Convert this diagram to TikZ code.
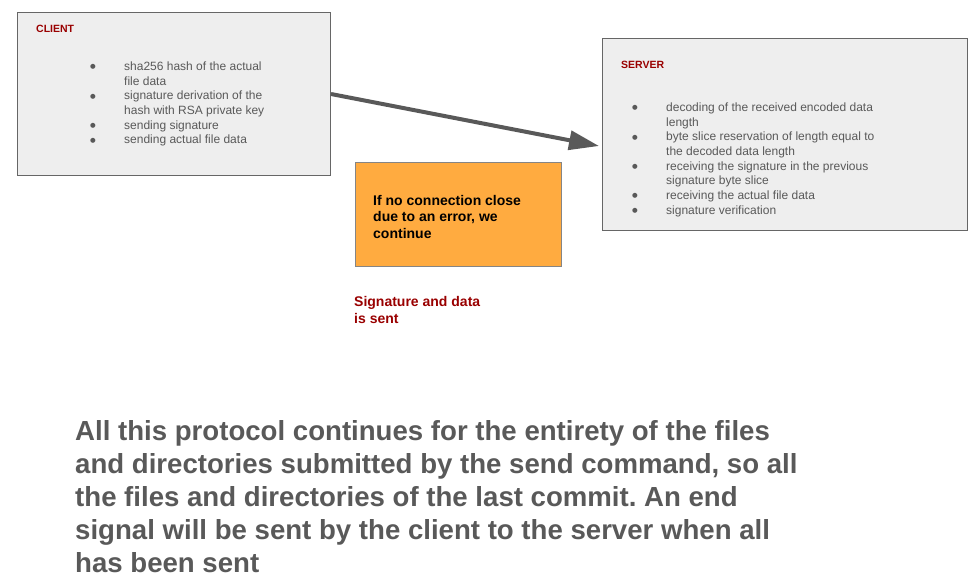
\documentclass[tikz,border=0pt]{standalone}
\usepackage{fontspec}
\setmainfont{Liberation Sans}
\newfontfamily\symfont{DejaVu Sans}
\usetikzlibrary{arrows.meta}
\frenchspacing
\definecolor{boxfill}{HTML}{EEEEEE}
\definecolor{boxdraw}{HTML}{666666}
\definecolor{txtgrey}{HTML}{595959}
\definecolor{darkred}{HTML}{990000}
\definecolor{orangefill}{HTML}{FFAB40}
\definecolor{arrowgrey}{HTML}{595959}
\newcommand{\bul}{\makebox[33pt][l]{\hspace*{-1.2pt}\raisebox{1.8pt}{\symfont\fontsize{6.5}{6.5}\selectfont\color{txtgrey}●}}}
\newcommand{\cont}{\hspace*{33pt}}
\begin{document}
\begin{tikzpicture}[x=1pt,y=-1pt,
  greybox/.style={draw=boxdraw,line width=1pt,fill=boxfill,anchor=north west,inner sep=0pt},
  orangebox/.style={draw=boxdraw!80,line width=1pt,fill=orangefill,anchor=north west,inner sep=0pt},
  label/.style={anchor=base west,inner sep=0pt,text=darkred,font=\fontsize{10.5}{12}\selectfont\bfseries},
  bullets/.style={anchor=base west,inner sep=0pt,text=txtgrey,font=\fontsize{12}{14.7}\selectfont},
  note/.style={anchor=base west,inner sep=0pt,font=\fontsize{14}{16.5}\selectfont\bfseries},
  bigtext/.style={anchor=base west,inner sep=0pt,text=txtgrey,font=\fontsize{27.6}{33}\selectfont\bfseries},
  link/.style={draw=arrowgrey,line width=4pt,-{Triangle[length=30pt,width=19pt]}}
]
\useasboundingbox (0,0) rectangle (973,588);
% boxes
\node[greybox,minimum width=313pt,minimum height=163pt] (client) at (17,12) {};
\node[greybox,minimum width=365pt,minimum height=192pt] (server) at (602,38) {};
\node[orangebox,minimum width=206pt,minimum height=104pt] (cond) at (355,162) {};
% labels
\node[label] (clientlbl) at (36,33) {CLIENT};
\node[label] (serverlbl) at (621,69) {SERVER};
% bullet lists
\node[bullets] (clientlist) at (91,70.5) {\begin{tabular}[t]{@{}l@{}}
\bul sha256 hash of the actual\\
\cont file data\\
\bul signature derivation of the\\
\cont hash with RSA private key\\
\bul sending signature\\
\bul sending actual file data
\end{tabular}};
\node[bullets] (serverlist) at (633,111.5) {\begin{tabular}[t]{@{}l@{}}
\bul decoding of the received encoded data\\
\cont length\\
\bul byte slice reservation of length equal to\\
\cont the decoded data length\\
\bul receiving the signature in the previous\\
\cont signature byte slice\\
\bul receiving the actual file data\\
\bul signature verification
\end{tabular}};
% notes
\node[note,text=black] (condtext) at (373,205) {\begin{tabular}[t]{@{}l@{}}
If no connection close\\
due to an error, we\\
continue
\end{tabular}};
\node[note,text=darkred] (senttext) at (354,306.5) {\begin{tabular}[t]{@{}l@{}}
Signature and data\\
is sent
\end{tabular}};
\node[bigtext] (summary) at (75,440) {\begin{tabular}[t]{@{}l@{}}
All this protocol continues for the entirety of the files\\
and directories submitted by the send command, so all\\
the files and directories of the last commit. An end\\
signal will be sent by the client to the server when all\\
has been sent
\end{tabular}};
% connector
\coordinate (tip) at (599,146);
\draw[link] (client.east) -- (tip);
\end{tikzpicture}
\end{document}
